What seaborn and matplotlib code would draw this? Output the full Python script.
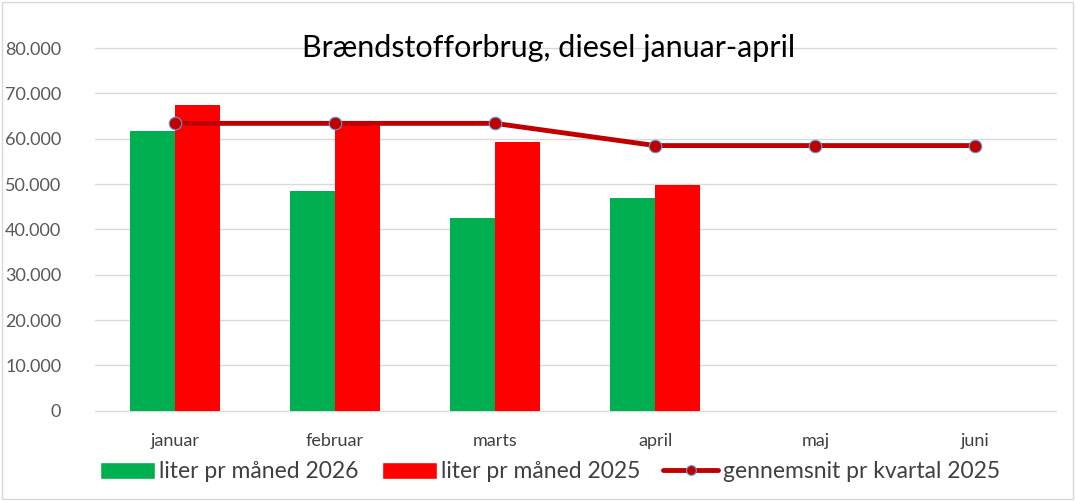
import matplotlib
matplotlib.use("Agg")
import matplotlib.pyplot as plt
import matplotlib.ticker as mticker
from matplotlib.lines import Line2D
from matplotlib.patches import Patch
import seaborn as sns
import pandas as pd
import numpy as np

# data
months = ['januar', 'februar', 'marts', 'april', 'maj', 'juni']
liter_2026 = [61700, 48500, 42600, 46900, np.nan, np.nan]
liter_2025 = [67400, 63000, 59300, 49800, np.nan, np.nan]
snit_2025 = [63400, 63400, 63400, 58500, 58500, 58500]

label_2026 = 'liter pr måned 2026'
label_2025 = 'liter pr måned 2025'
label_snit = 'gennemsnit pr kvartal 2025'

green = '#00B050'
red = '#FF0000'
dark_red = '#C00000'

sns.set_style('white')
plt.rcParams['font.family'] = ['Lato', 'DejaVu Sans']

df = pd.DataFrame({
    'måned': months * 2,
    'liter': liter_2026 + liter_2025,
    'serie': [label_2026] * 6 + [label_2025] * 6,
})

fig = plt.figure(figsize=(10.76, 5.01), dpi=100)
ax = fig.add_axes([0.088, 0.180, 0.893, 0.724])

sns.barplot(data=df, x='måned', y='liter', hue='serie', order=months,
            hue_order=[label_2026, label_2025], palette=[green, red],
            width=0.56, saturation=1, ax=ax, legend=False, zorder=2,
            linewidth=0, edgecolor='none')

sns.pointplot(x=months, y=snit_2025, color=dark_red, ax=ax,
              linewidth=3.5, markersize=9, markeredgecolor='#5B9BD5',
              markeredgewidth=0.8)
for ln in ax.lines:
    ln.set_zorder(4)

ax.set_ylim(0, 80000)
ax.set_yticks(np.arange(0, 80001, 10000))
ax.yaxis.set_major_formatter(mticker.FuncFormatter(
    lambda v, p: '0' if v == 0 else f'{int(v):,}'.replace(',', '.')))
ax.grid(axis='y', color='#D9D9D9', linewidth=1)
for gl in ax.get_ygridlines():
    gl.set_clip_on(False)
ax.set_axisbelow(True)
for s in ax.spines.values():
    s.set_visible(False)
ax.set_xlabel('')
ax.set_ylabel('')
ax.tick_params(axis='y', labelsize=13, labelcolor='#595959', length=0, pad=24)
ax.tick_params(axis='x', labelsize=13, labelcolor='#404040', length=0, pad=16)
ax.set_xlim(-0.5, 5.5)

fig.text(0.51, 0.905, 'Brændstofforbrug, diesel januar-april', ha='center',
         va='center', fontsize=22, color='#000000')

handles = [
    Patch(facecolor=green, label=label_2026),
    Patch(facecolor=red, label=label_2025),
    Line2D([0], [0], color=dark_red, linewidth=3.5, marker='o', markersize=7,
           markeredgecolor='#5B9BD5', markeredgewidth=0.8, label=label_snit),
]
fig.legend(handles=handles, loc='center', bbox_to_anchor=(0.511, 0.058), ncol=3,
           frameon=False, fontsize=16.5, handlelength=2.4, handleheight=0.8,
           handletextpad=0.2, columnspacing=1.0, labelcolor='#404040')

fig.patches.append(plt.Rectangle((0.002, 0.003), 0.995, 0.994, transform=fig.transFigure,
                                 fill=False, edgecolor='#D9D9D9', linewidth=1))

fig.savefig('out.png', dpi=100)
